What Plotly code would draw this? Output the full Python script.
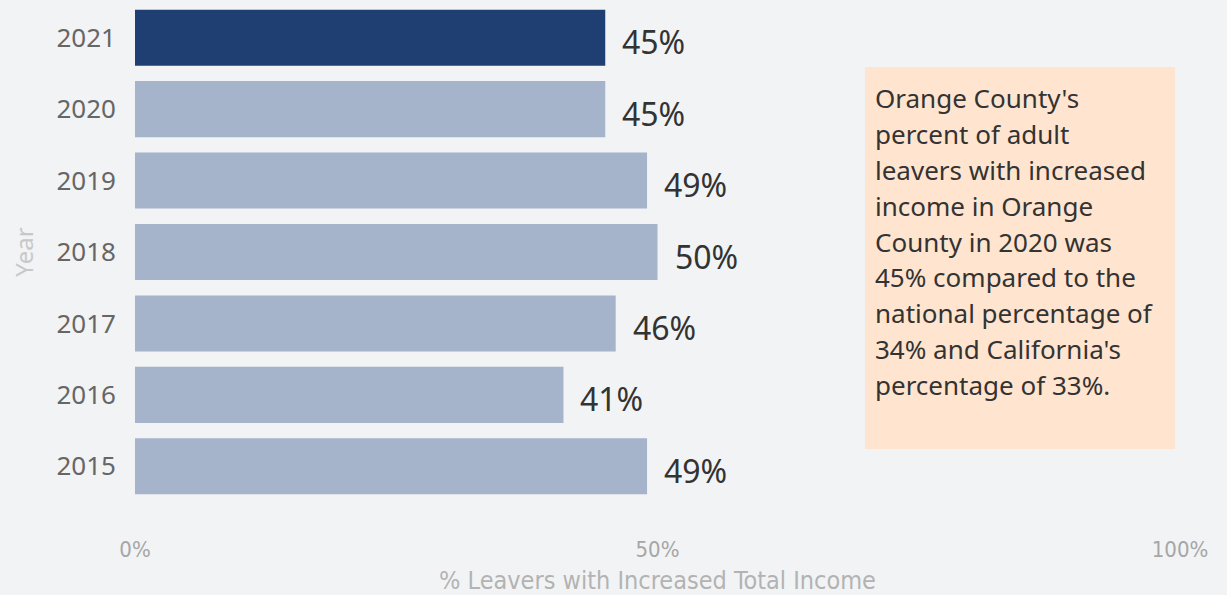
import plotly.graph_objects as go

# Data
years = ["2015", "2016", "2017", "2018", "2019", "2020", "2021"]
pct_increased = [49, 41, 46, 50, 49, 45, 45]
highlight_year = "2021"
x_ticks = [0, 50, 100]
x_tick_labels = ["0%", "50%", "100%"]
note_lines = [
    "Orange County's",
    "percent of adult",
    "leavers with increased",
    "income in Orange",
    "County in 2020 was",
    "45% compared to the",
    "national percentage of",
    "34% and California's",
    "percentage of 33%.",
]

W, H = 1227, 595
L, R = 135, 1180          # plot area left/right in px
T, B = 2, 502             # plot area top/bottom in px

def px_x(p):
    return (p - L) / (R - L)

def px_y(p):
    return (B - p) / (B - T)

dark = "#1F3F73"
light = "#A5B3CB"
colors = [dark if y == highlight_year else light for y in years]
pos = list(range(len(years)))
gap = 0.215

fig = go.Figure(
    go.Bar(
        x=pct_increased,
        y=pos,
        orientation="h",
        width=1 - gap,
        marker=dict(color=colors, line=dict(width=0)),
        hoverinfo="skip",
    )
)

label_font = "Noto Sans, Open Sans, sans-serif"

# Value labels to the right of each bar
for p, v in zip(pos, pct_increased):
    fig.add_annotation(
        x=v, y=p, xref="x", yref="y",
        text=f"{v}%", showarrow=False,
        xanchor="left", yanchor="middle",
        xshift=15, yshift=-4,
        font=dict(family=label_font, size=32, color="#333333"),
    )

# Commentary box
fig.add_shape(
    type="rect", xref="paper", yref="paper",
    x0=px_x(865), x1=px_x(1175), y0=px_y(449), y1=px_y(67),
    fillcolor="#FFE5CF", line=dict(width=0), layer="below",
)
for i, line in enumerate(note_lines):
    fig.add_annotation(
        x=px_x(873), y=px_y(98 + i * 35.9), xref="paper", yref="paper",
        text=line, showarrow=False, xanchor="left", yanchor="middle",
        font=dict(family=label_font, size=26, color="#333333"),
    )

axis_font = "DejaVu Sans Condensed, sans-serif"

fig.update_layout(
    width=W, height=H,
    margin=dict(l=L, r=W - R, t=T, b=H - B),
    paper_bgcolor="#F2F3F5",
    plot_bgcolor="#F2F3F5",
    showlegend=False,
    xaxis=dict(
        range=[0, 100],
        tickvals=x_ticks,
        ticktext=x_tick_labels,
        showgrid=False, zeroline=False, showline=False,
        tickfont=dict(family=axis_font, size=22, color="#A6A6A6"),
        ticklabelstandoff=32,
        title=dict(
            text="% Leavers with Increased Total Income",
            font=dict(family=axis_font, size=25, color="#B3B3B3"),
            standoff=10,
        ),
        fixedrange=True,
    ),
    yaxis=dict(
        range=[-0.5, len(years) - 0.5],
        tickvals=pos,
        ticktext=years,
        showgrid=False, zeroline=False, showline=False,
        tickfont=dict(family=label_font, size=26, color="#666666"),
        ticklabelstandoff=18,
        title=dict(
            text="Year",
            font=dict(family=label_font, size=24, color="#C8C8C8"),
            standoff=16,
        ),
        fixedrange=True,
    ),
)

fig.write_html("out.html", config={"displayModeBar": False})
